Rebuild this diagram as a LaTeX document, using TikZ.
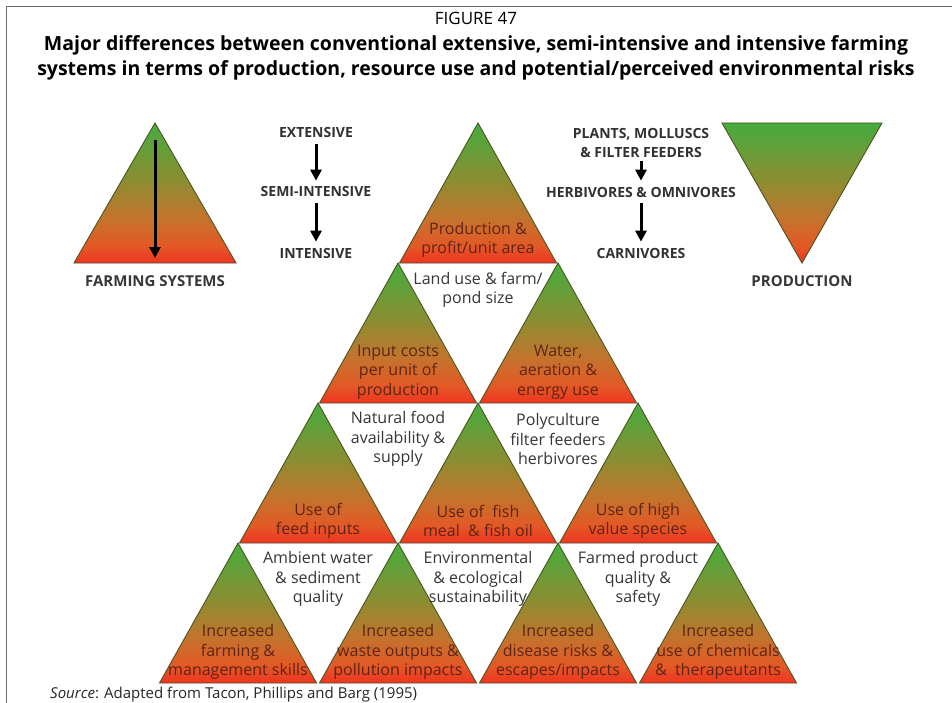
\documentclass[tikz,border=0pt]{standalone}
\usepackage{fontspec}
\setmainfont{Open Sans}
\usetikzlibrary{arrows.meta}
\definecolor{cRed}{RGB}{238,52,34}
\definecolor{cRedOr}{RGB}{228,88,38}
\definecolor{cOrange}{RGB}{196,115,45}
\definecolor{cOlive}{RGB}{138,142,50}
\definecolor{cGreen}{RGB}{68,172,62}
\definecolor{edgeC}{RGB}{75,85,35}
\definecolor{triText}{RGB}{95,36,20}
\definecolor{grayText}{RGB}{55,55,55}
\definecolor{frameC}{RGB}{110,110,110}
\pgfdeclareverticalshading{pyr}{100bp}{color(0bp)=(cRed); color(25bp)=(cRed); color(31bp)=(cRedOr); color(41bp)=(cOrange); color(55bp)=(cOlive); color(75bp)=(cGreen); color(100bp)=(cGreen)}
\newcommand\fsz[2]{\fontsize{#1}{#2}\selectfont}
\tikzset{
  tri/.style={shade, shading=pyr, draw=edgeC, line width=0.9pt},
  tritext/.style={text=triText, font=\fsz{16}{19.5}, align=center, inner sep=0pt},
  whitetext/.style={text=grayText, font=\fsz{16}{19.5}, align=center, inner sep=0pt},
  caps/.style={text=grayText!90!black, font=\bfseries\fsz{14}{19}, align=center, inner sep=0pt},
  capsbold/.style={text=grayText, font=\bfseries\fsz{15}{19}, align=center, inner sep=0pt},
  bigarrow/.style={line width=3pt, -{Triangle[width=11pt,length=11pt]}},
  frameline/.style={draw=frameC, line width=1.2pt},
}
\newcommand\ptri[2]{\path[tri] (#1,#2) -- ++(78.5,140) -- ++(-157,0) -- cycle;}
\begin{document}
\begin{tikzpicture}[x=1pt,y=-1pt]
\useasboundingbox (0,0) rectangle (952,703);
\fill[white] (0,0) rectangle (952,703);
% frame
\draw[frameline] (6.5,703) -- (6.5,6.5) -- (952,6.5);
% title
\node[font=\fsz{17}{20}] (fig) at (476,18) {FIGURE 47};
\node[font=\bfseries\fsz{19.5}{25}, align=center, inner sep=0pt] (title) at (476,57.5)
  {Major differences between conventional extensive, semi-intensive and intensive farming\\
   systems in terms of production, resource use and potential/perceived environmental risks};
% farming systems triangle
\path[tri] (155,123) -- (236,263) -- (74,263) -- cycle;
\coordinate (fa1) at (155,140);
\coordinate (fa2) at (155,258);
\draw[bigarrow] (fa1) -- (fa2);
\node[capsbold] (farm) at (155,281) {FARMING SYSTEMS};
% production triangle
\path[tri] (722,123) -- (882,123) -- (802,263) -- cycle;
\node[capsbold] (prod) at (802,281) {PRODUCTION};
% left column
\node[caps] (ext) at (316,133) {EXTENSIVE};
\node[caps] (semi) at (316,192) {SEMI-INTENSIVE};
\node[caps] (inten) at (316,253) {INTENSIVE};
\draw[bigarrow, shorten <=6pt, shorten >=6pt] (ext) -- (semi);
\draw[bigarrow, shorten <=6pt, shorten >=6pt] (semi) -- (inten);
% right column
\node[caps] (plants) at (641,142.5) {PLANTS, MOLLUSCS\\\& FILTER FEEDERS};
\node[caps] (herb) at (641,192) {HERBIVORES \& OMNIVORES};
\node[caps] (carn) at (641,253) {CARNIVORES};
\draw[bigarrow, shorten <=4pt, shorten >=6pt] (plants) -- (herb);
\draw[bigarrow, shorten <=6pt, shorten >=6pt] (herb) -- (carn);
% pyramid
\ptri{478}{123}
\ptri{398}{263}\ptri{558}{263}
\ptri{318}{403}\ptri{478}{403}\ptri{638}{403}
\ptri{238}{543}\ptri{398}{543}\ptri{558}{543}\ptri{718}{543}
% triangle texts
\node[tritext] (p0) at (478,240) {Production \&\\profit/unit area};
\node[tritext] (p1a) at (398,372) {Input costs\\per unit of\\production};
\node[tritext] (p1b) at (558,372) {Water,\\aeration \&\\energy use};
\node[tritext] (p2a) at (318,521) {Use of\\feed inputs};
\node[tritext] (p2b) at (478,521) {Use of~~fish\\meal~~\& fish oil};
\node[tritext] (p2c) at (638,521) {Use of high\\value species};
\node[tritext] (p3a) at (238,652) {Increased\\farming \&\\management skills};
\node[tritext] (p3b) at (398,652) {Increased\\waste outputs \&\\pollution impacts};
\node[tritext] (p3c) at (558,652) {Increased\\disease risks \&\\escapes/impacts};
\node[tritext] (p3d) at (718,652) {Increased\\use of chemicals\\\&~~therapeutants};
% white texts
\node[whitetext] (w1) at (478,290) {Land use \& farm/\\pond size};
\node[whitetext] (w2a) at (398,439) {Natural food\\availability \&\\supply};
\node[whitetext] (w2b) at (558,439) {Polyculture\\filter feeders\\herbivores};
\node[whitetext] (w3a) at (318,579) {Ambient water\\\& sediment\\quality};
\node[whitetext] (w3b) at (478,579) {Environmental\\\& ecological\\sustainability};
\node[whitetext] (w3c) at (638,579) {Farmed product\\quality \&\\safety};
% source
\node[anchor=base west, inner sep=0pt, text=black!85, font=\fsz{15}{18}] (src) at (50,698)
  {\textit{Source}: Adapted from Tacon, Phillips and Barg (1995)};
\end{tikzpicture}
\end{document}
